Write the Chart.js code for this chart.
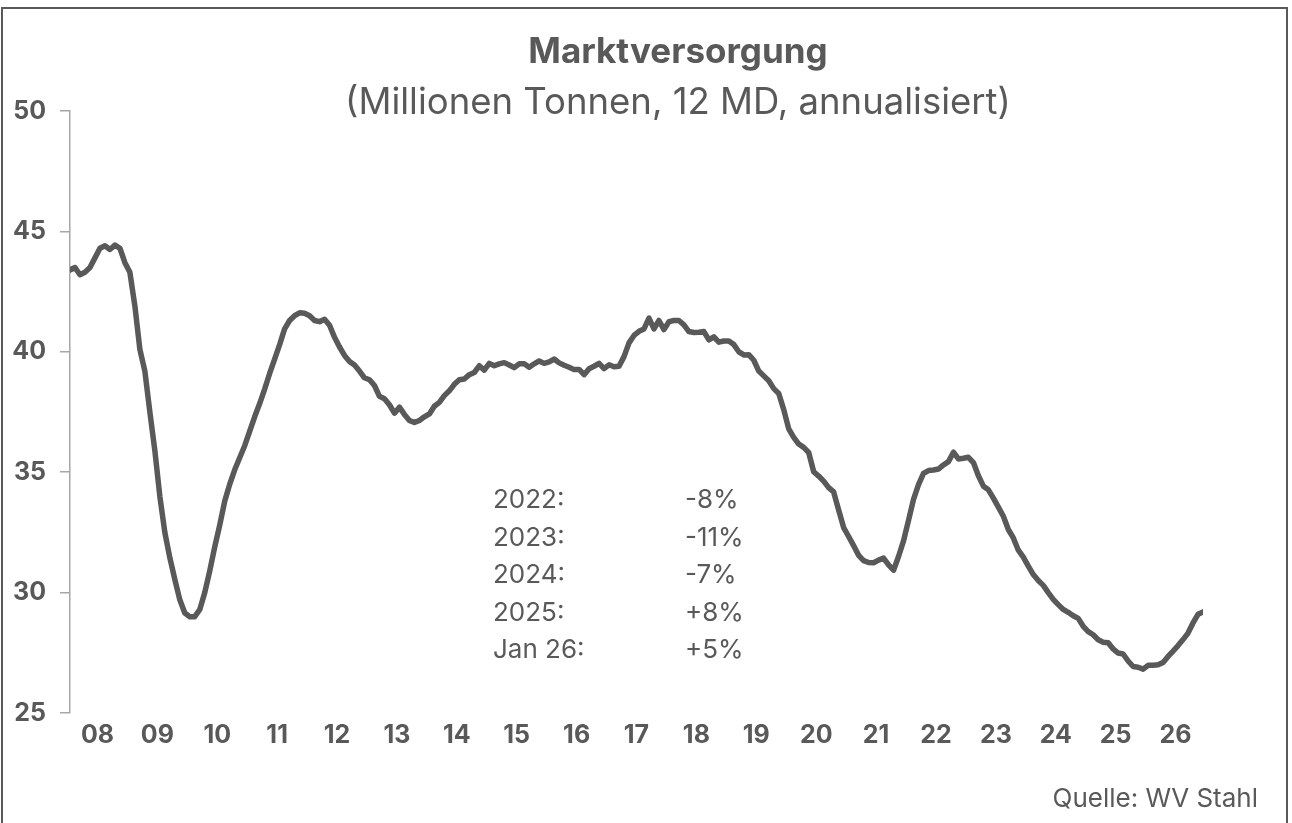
<!DOCTYPE html>
<html lang="de">
<head>
<meta charset="utf-8">
<title>Marktversorgung</title>
<script src="https://cdn.jsdelivr.net/npm/chart.js@4.4.1/dist/chart.umd.min.js"></script>
<style>
  html, body { margin: 0; padding: 0; background: #fff; }
  body { width: 1292px; height: 823px; overflow: hidden; position: relative; font-family: Inter, "Open Sans", sans-serif; color: #595959; }
  #frame { position: absolute; left: 1px; top: 7px; width: 1287px; height: 830px; border: 2px solid #595959; box-sizing: border-box; }
  #chart { position: absolute; left: 0; top: 0; }
  .titel { position: absolute; left: 0; width: 1356px; text-align: center; white-space: nowrap; }
  #titel { top: 30px; font-size: 35px; font-weight: 700; line-height: 40px; }
  #untertitel { top: 81px; font-size: 36.5px; font-weight: 400; line-height: 40px; }
  #notiz { position: absolute; left: 493px; top: 480px; font-size: 26px; line-height: 37.5px; }
  #notiz div { white-space: nowrap; }
  #notiz span { position: absolute; left: 192px; }
  #quelle { position: absolute; right: 34px; top: 782px; font-size: 26px; line-height: 32px; }
</style>
</head>
<body>
<div id="frame"></div>
<canvas id="chart" width="1292" height="823"></canvas>
<div class="titel" id="titel">Marktversorgung</div>
<div class="titel" id="untertitel">(Millionen Tonnen, 12 MD, annualisiert)</div>
<div id="notiz"></div>
<div id="quelle">Quelle: WV Stahl</div>
<script>
const yearLabels = ['08', '09', '10', '11', '12', '13', '14', '15', '16', '17',
  '18', '19', '20', '21', '22', '23', '24', '25', '26'];
const yTicks = [25, 30, 35, 40, 45, 50];

// Monatswerte, Mio. t (12 MD, annualisiert)
const versorgung = [
  43.4, 43.5, 43.2, 43.3, 43.5, 43.9, 44.3, 44.4, 44.25, 44.43, 44.3, 43.7,
  43.3, 41.9, 40.1, 39.2, 37.5, 35.9, 34.0, 32.5, 31.45, 30.55, 29.7, 29.15,
  29.0, 29.0, 29.3, 30.0, 30.9, 31.9, 32.8, 33.8, 34.5, 35.1, 35.6, 36.1,
  36.7, 37.3, 37.85, 38.45, 39.1, 39.7, 40.3, 40.95, 41.3, 41.5, 41.62, 41.6,
  41.5, 41.3, 41.25, 41.35, 41.1, 40.6, 40.2, 39.85, 39.6, 39.45, 39.2, 38.92,
  38.84, 38.6, 38.15, 38.05, 37.8, 37.45, 37.7, 37.4, 37.15, 37.06, 37.15, 37.3,
  37.42, 37.74, 37.9, 38.18, 38.38, 38.65, 38.84, 38.87, 39.05, 39.14, 39.42, 39.24,
  39.52, 39.42, 39.5, 39.55, 39.45, 39.34, 39.5, 39.5, 39.36, 39.5, 39.62, 39.52,
  39.58, 39.7, 39.54, 39.44, 39.36, 39.26, 39.27, 39.05, 39.3, 39.4, 39.52, 39.3,
  39.46, 39.38, 39.4, 39.8, 40.37, 40.68, 40.85, 40.95, 41.4, 40.95, 41.3, 40.92,
  41.25, 41.3, 41.3, 41.12, 40.84, 40.8, 40.81, 40.84, 40.5, 40.62, 40.4, 40.45,
  40.45, 40.3, 40.0, 39.87, 39.88, 39.65, 39.2, 39.0, 38.8, 38.47, 38.27, 37.6,
  36.8, 36.45, 36.17, 36.03, 35.82, 35.02, 34.84, 34.63, 34.36, 34.18, 33.43, 32.7,
  32.33, 31.95, 31.55, 31.33, 31.25, 31.24, 31.35, 31.43, 31.15, 30.93, 31.5, 32.15,
  33.0, 33.87, 34.48, 34.95, 35.07, 35.09, 35.13, 35.3, 35.44, 35.83, 35.55, 35.58,
  35.62, 35.4, 34.85, 34.42, 34.27, 33.92, 33.55, 33.17, 32.62, 32.27, 31.76, 31.47,
  31.1, 30.75, 30.5, 30.3, 30.0, 29.72, 29.5, 29.3, 29.18, 29.04, 28.93, 28.6,
  28.38, 28.25, 28.04, 27.94, 27.92, 27.66, 27.49, 27.45, 27.16, 26.93, 26.9, 26.82,
  26.98, 26.98, 27.0, 27.1, 27.35, 27.57, 27.8, 28.05, 28.32, 28.74, 29.1, 29.2
];

const notizJahre = ['2022:', '2023:', '2024:', '2025:', 'Jan 26:'];
const notizWerte = ['-8%', '-11%', '-7%', '+8%', '+5%'];

const grau = '#595959';
const achse = '#a6a6a6';

const notiz = document.getElementById('notiz');
notizJahre.forEach((jahr, i) => {
  const div = document.createElement('div');
  div.innerHTML = `${jahr}<span>${notizWerte[i]}</span>`;
  notiz.appendChild(div);
});

const ctx = document.getElementById('chart').getContext('2d');
const chart = new Chart(ctx, {
  type: 'line',
  data: {
    datasets: [{
      label: 'Marktversorgung',
      data: versorgung.map((v, i) => ({ x: i, y: v })),
      borderColor: grau,
      borderWidth: 5.5,
      pointRadius: 0,
      tension: 0,
      borderJoinStyle: 'round',
      borderCapStyle: 'round'
    }]
  },
  options: {
    responsive: false,
    animation: false,
    devicePixelRatio: 1,
    layout: { padding: { top: 111, right: 89, bottom: 0, left: 0 } },
    plugins: {
      legend: { display: false },
      tooltip: { enabled: false }
    },
    scales: {
      x: {
        type: 'linear',
        min: 0,
        max: versorgung.length - 1,
        grid: { display: false, drawTicks: false },
        border: { display: false },
        afterBuildTicks: (scale) => {
          scale.ticks = yearLabels.map((l, k) => ({ value: 5.5 + 12 * k }));
        },
        afterFit: (scale) => { scale.height = 110; },
        ticks: {
          autoSkip: false,
          maxRotation: 0,
          padding: 7,
          color: grau,
          font: { family: 'Inter', size: 25, weight: 'bold' },
          callback: (v, i) => yearLabels[i]
        }
      },
      y: {
        min: 25,
        max: 50,
        afterBuildTicks: (scale) => {
          scale.ticks = yTicks.map(v => ({ value: v }));
        },
        afterFit: (scale) => { scale.width = 70; },
        grid: { drawOnChartArea: false, drawTicks: true, tickLength: 10, color: achse, lineWidth: 1.5 },
        border: { display: true, color: achse, width: 1.5 },
        ticks: {
          padding: 14,
          color: grau,
          font: { family: 'Inter', size: 25, weight: 'bold' }
        }
      }
    }
  }
});
</script>
</body>
</html>
